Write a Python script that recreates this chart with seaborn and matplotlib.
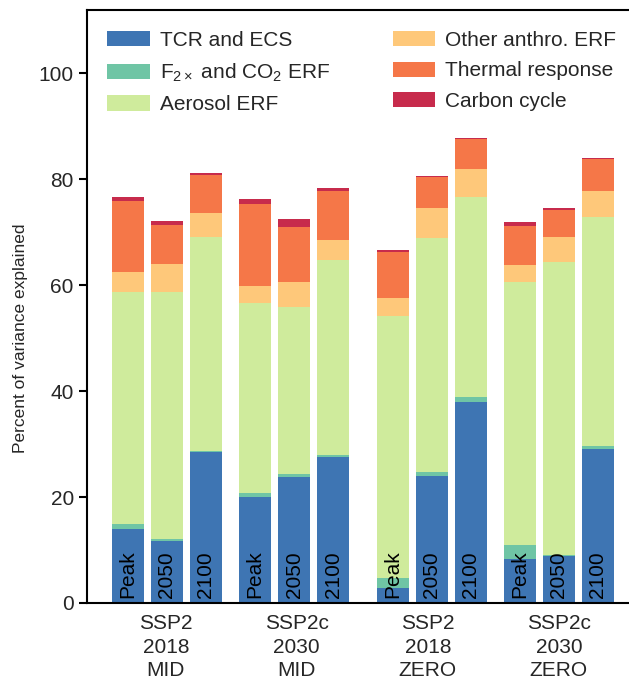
import pandas as pd
import matplotlib
matplotlib.use("Agg")
import matplotlib.pyplot as plt
from matplotlib.patches import Patch
import seaborn as sns

# data (segment sizes, percent of variance)
scenarios = ["SSP2\n2018\nMID", "SSP2c\n2030\nMID", "SSP2\n2018\nZERO", "SSP2c\n2030\nZERO"]
times = ["Peak", "2050", "2100"]
components = ["TCR and ECS", "F$_{2\\times}$ and CO$_2$ ERF", "Aerosol ERF",
              "Other anthro. ERF", "Thermal response", "Carbon cycle"]

tcr_ecs = [14.0, 11.7, 28.5, 20.0, 23.8, 27.6, 2.9, 24.0, 37.9, 8.3, 8.9, 29.1]
f2x_co2 = [0.9, 0.4, 0.2, 0.8, 0.5, 0.3, 1.8, 0.7, 1.0, 2.6, 0.2, 0.5]
aerosol = [43.8, 46.6, 40.4, 35.9, 31.5, 36.9, 49.5, 44.2, 37.7, 49.7, 55.3, 43.2]
other_anthro = [3.8, 5.3, 4.4, 3.1, 4.8, 3.7, 3.3, 5.6, 5.3, 3.2, 4.7, 4.9]
thermal = [13.4, 7.4, 7.3, 15.4, 10.3, 9.2, 8.7, 5.9, 5.6, 7.3, 5.1, 6.1]
carbon = [0.7, 0.7, 0.4, 1.0, 1.6, 0.6, 0.4, 0.2, 0.3, 0.8, 0.3, 0.2]

colors = ["#3e75b3", "#6fc5a5", "#cfeb9c", "#fec87a", "#f57748", "#c72b4c"]

# layout
group_offsets = [0, 3.26, 6.79, 10.05]
tick_pos = [0.97, 4.33, 7.69, 11.05]

series = [tcr_ecs, f2x_co2, aerosol, other_anthro, thermal, carbon]
rows = []
for b in range(len(tcr_ecs)):
    g, t = divmod(b, 3)
    cum = 0.0
    for c, vals in enumerate(series):
        cum += vals[b]
        rows.append({"pos": group_offsets[g] + t, "time": times[t],
                     "component": components[c], "top": cum})
df = pd.DataFrame(rows)

sns.set_theme(style="ticks")
plt.rcParams["font.family"] = ["Liberation Sans", "DejaVu Sans"]
plt.rcParams["mathtext.fontset"] = "custom"
plt.rcParams["mathtext.rm"] = "Liberation Sans"
plt.rcParams["mathtext.it"] = "Liberation Sans:italic"

fig = plt.figure(figsize=(6.29, 6.79), dpi=100)
ax = fig.add_axes([87 / 629, 1 - 603 / 679, 1 - 87 / 629, (603 - 10) / 679])

# stacked bars: draw cumulative tops from the highest component down
for c in reversed(range(len(components))):
    sub = df[df["component"] == components[c]]
    sns.barplot(data=sub, x="pos", y="top", native_scale=True, color=colors[c],
                width=0.82, linewidth=0, errorbar=None, saturation=1, ax=ax)

bars = df[df["component"] == components[0]]
for _, r in bars.iterrows():
    ax.text(r["pos"], 0.9, r["time"], rotation=90, ha="center", va="bottom",
            fontsize=15, color="black")

ax.set_xlim(-1.05, 12.85)
ax.set_ylim(0, 111.9)
ax.set_yticks([0, 20, 40, 60, 80, 100])
ax.set_xticks(tick_pos)
ax.set_xticklabels(scenarios, fontsize=15, linespacing=1.3)
ax.set_xlabel("")
ax.set_ylabel("Percent of variance explained", fontsize=12.5)
ax.yaxis.set_label_coords(-0.108, 50, transform=ax.get_yaxis_transform())
ax.tick_params(axis="y", labelsize=15, length=6, width=1.5, color="black")
ax.tick_params(axis="x", length=0, pad=8)

for side in ["left", "top", "bottom"]:
    ax.spines[side].set_linewidth(1.5)
    ax.spines[side].set_color("black")
ax.spines["right"].set_visible(False)

handles = [Patch(facecolor=col, edgecolor="none") for col in colors]
ax.legend(handles, components, ncol=2, frameon=False, fontsize=15,
          loc="upper left", bbox_to_anchor=(107 / 629, 1 - 31 / 679),
          bbox_transform=fig.transFigure, borderaxespad=0, borderpad=0,
          handlelength=2.05, handleheight=0.76, handletextpad=0.48,
          labelspacing=0.55, columnspacing=3.0)

fig.savefig("out.png", dpi=100)
